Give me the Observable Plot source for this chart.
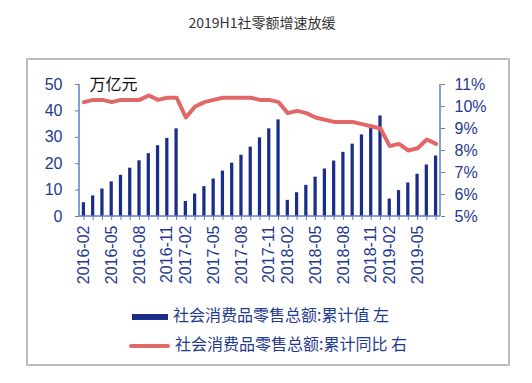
<!DOCTYPE html>
<html>
<head>
<meta charset="utf-8">
<script src="https://cdn.jsdelivr.net/npm/d3@7"></script>
<script src="https://cdn.jsdelivr.net/npm/@observablehq/plot@0.6"></script>
<style>
  html, body { margin: 0; padding: 0; background: #fff; }
  #page { position: relative; width: 532px; height: 383px; overflow: hidden; font-family: "Noto Sans CJK SC", sans-serif; }
  #title { position: absolute; left: 0; width: 524px; top: 12px; text-align: center; font-size: 14px; color: #333; }
  #box { position: absolute; left: 26px; top: 58px; width: 480px; height: 304px; border: 2px solid #bdbdbd; }
  #chart { position: absolute; left: 0; top: 0; }
  .leg { position: absolute; left: 0; font-size: 16px; color: #1f3a8f; white-space: nowrap; line-height: 20px; }
  .sw { display: inline-block; vertical-align: middle; margin-right: 5px; }
</style>
</head>
<body>
<div id="page">
  <div id="title">2019H1社零额增速放缓</div>
  <div id="box"></div>
  <div id="chart"></div>
  <div class="leg" id="leg1" style="left:132px; top:304px;"><span class="sw" style="width:36px;height:6px;background:#1b2d8a;"></span><span id="l1"></span></div>
  <div class="leg" id="leg2" style="left:129px; top:333px;"><span class="sw" style="width:41px;height:4px;background:#e26868;border-radius:2px;"></span><span id="l2"></span></div>
</div>
<script>
const months = [
  "2016-02","2016-03","2016-04","2016-05","2016-06","2016-07","2016-08","2016-09","2016-10","2016-11","2016-12",
  "2017-02","2017-03","2017-04","2017-05","2017-06","2017-07","2017-08","2017-09","2017-10","2017-11","2017-12",
  "2018-02","2018-03","2018-04","2018-05","2018-06","2018-07","2018-08","2018-09","2018-10","2018-11","2018-12",
  "2019-02","2019-03","2019-04","2019-05","2019-06","2019-07"
];
// 社会消费品零售总额:累计值 (万亿元)
const retailCum = [
  5.2, 7.8, 10.4, 13.1, 15.6, 18.3, 21.1, 23.8, 26.8, 29.6, 33.2,
  5.7, 8.5, 11.3, 14.2, 17.2, 20.2, 23.2, 26.3, 29.8, 33.2, 36.6,
  6.1, 9.0, 11.8, 14.9, 18.0, 21.0, 24.3, 27.4, 30.9, 34.5, 38.1,
  6.6, 9.8, 12.7, 16.0, 19.5, 22.9
];
// 社会消费品零售总额:累计同比 (%)
const retailYoY = [
  10.2, 10.3, 10.3, 10.2, 10.3, 10.3, 10.3, 10.5, 10.3, 10.4, 10.4,
  9.5, 10.0, 10.2, 10.3, 10.4, 10.4, 10.4, 10.4, 10.3, 10.3, 10.2,
  9.7, 9.8, 9.7, 9.5, 9.4, 9.3, 9.3, 9.3, 9.2, 9.1, 9.0,
  8.2, 8.3, 8.0, 8.1, 8.5, 8.3
];
const xTickLabels = ["2016-02","2016-05","2016-08","2016-11","2017-02","2017-05","2017-08","2017-11","2018-02","2018-05","2018-08","2018-11","2019-02","2019-05"];
const leftTicks = [0, 10, 20, 30, 40, 50];
const rightTicks = [5, 6, 7, 8, 9, 10, 11];
const unitLabel = "万亿元";
const legendBar = "社会消费品零售总额:累计值 左";
const legendLine = "社会消费品零售总额:累计同比 右";

const leftMax = 50, rMin = 5, rMax = 11;
const toLeft = p => (p - rMin) / (rMax - rMin) * leftMax;
const fromLeft = v => v / leftMax * (rMax - rMin) + rMin;

const rows = months.map((m, i) => ({month: m, cum: retailCum[i], yoy: retailYoY[i]}));

const navy = "#1b2d8a";
const red = "#e26868";
const axisColor = "#5f7fc0";
const textColor = "#1f3a8f";

const axisLines = (index, scales, values, dims) => {
  const {width, height, marginLeft: l, marginRight: r, marginTop: t, marginBottom: b} = dims;
  const g = d3.create("svg:g").attr("stroke", axisColor).attr("stroke-width", 1.5).attr("fill", "none");
  g.append("line").attr("x1", l).attr("x2", l).attr("y1", t).attr("y2", height - b);
  g.append("line").attr("x1", width - r).attr("x2", width - r).attr("y1", t).attr("y2", height - b);
  g.append("line").attr("x1", l).attr("x2", width - r).attr("y1", height - b).attr("y2", height - b);
  return g.node();
};

const chart = Plot.plot({
  width: 532,
  height: 300,
  marginLeft: 79,
  marginRight: 92,
  marginTop: 84,
  marginBottom: 84,
  style: {fontFamily: "'Liberation Sans', Arial, sans-serif", fontSize: "16px", background: "transparent", overflow: "visible"},
  x: {type: "band", domain: months, paddingInner: 0.65, paddingOuter: 0.3, round: false, axis: null, label: null},
  y: {domain: [0, leftMax], axis: null, label: null},
  marks: [
    Plot.barY(rows, {x: "month", y: "cum", fill: navy}),
    Plot.line(rows, {x: "month", y: d => toLeft(d.yoy), stroke: red, strokeWidth: 4, strokeLinejoin: "round", strokeLinecap: "round"}),
    axisLines,
    Plot.axisX(months, {anchor: "bottom", tickSize: 4, tickFormat: () => "", stroke: axisColor, label: null}),
    Plot.axisX(xTickLabels, {anchor: "bottom", tickSize: 0, tickPadding: 9, tickRotate: -90, fontSize: 16, fill: textColor, label: null}),
    Plot.axisY(leftTicks, {anchor: "left", tickSize: 4, tickPadding: 13, fontSize: 16, stroke: axisColor, fill: textColor, label: null}),
    Plot.axisY(rightTicks.map(toLeft), {anchor: "right", tickSize: 4, tickPadding: 10, fontSize: 16, stroke: axisColor, fill: textColor, label: null,
      tickFormat: v => `${Math.round(fromLeft(v))}%`}),
    Plot.text([unitLabel], {frameAnchor: "top-left", dx: 10, lineAnchor: "middle", textAnchor: "start", fill: "#111", fontSize: 16,
      fontFamily: "'Noto Sans CJK SC', sans-serif"})
  ]
});
document.getElementById("chart").appendChild(chart);
document.getElementById("l1").textContent = legendBar;
document.getElementById("l2").textContent = legendLine;
</script>
</body>
</html>
